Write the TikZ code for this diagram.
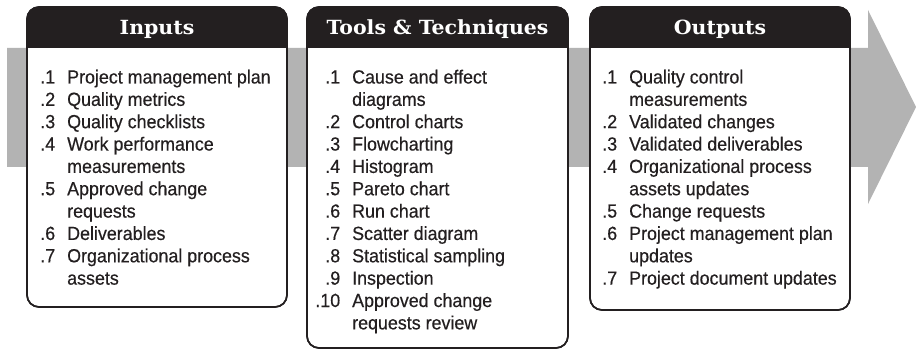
\documentclass[tikz,border=0pt]{standalone}
\usepackage{fontspec}
\setmainfont{Liberation Sans}[FakeStretch=0.94, FakeBold=0.4]
\newfontfamily\headfont{DejaVu Serif}[FakeStretch=1.05]
\definecolor{ink}{HTML}{231F20}
\definecolor{band}{HTML}{B3B3B3}
\tikzset{
  boxline/.style={draw=ink, line width=1.6pt, rounded corners=12pt, fill=white},
  hdrfill/.style={fill=ink, rounded corners=12pt},
  hdrtext/.style={text=white, font=\headfont\bfseries\fontsize{19.5}{22}\selectfont, inner sep=0pt, anchor=base},
  item/.style={text=ink, font=\fontsize{19}{22}\selectfont, inner sep=0pt, anchor=base west},
}
\newcommand{\numitem}[2]{\llap{#1\hspace{12pt}}#2}
\begin{document}
\begin{tikzpicture}[x=1pt, y=-1pt]
\useasboundingbox (0,0) rectangle (916,350);
% grey process arrow
\fill[band] (7,48) -- (868,48) -- (868,10) -- (916,107) -- (868,204) -- (868,167) -- (7,167) -- cycle;
% boxes: name/left/right/bottom
\foreach \nm/\l/\r/\b in {inbox/27/287/307, ttbox/307/568/348, outbox/590/850/310}{
  \path[boxline] (\l,7) rectangle (\r,\b);
  \begin{scope}
    \clip (\l-2,5) rectangle (\r+2,48);
    \path[hdrfill] (\l,7) rectangle (\r,80);
  \end{scope}
  \draw[ink, line width=1.6pt, rounded corners=12pt] (\l,7) rectangle (\r,\b);
  \coordinate (\nm) at ({(\l+\r)/2},35);
}
\node[hdrtext] (inhead) at (inbox) {Inputs};
\node[hdrtext] (tthead) at (ttbox) {Tools \& Techniques};
\node[hdrtext] (outhead) at (outbox) {Outputs};
% Inputs list
\foreach \n/\t [count=\i] in {
  .1/Project management plan, .2/Quality metrics, .3/Quality checklists,
  .4/Work performance, /measurements, .5/Approved change, /requests,
  .6/Deliverables, .7/Organizational process, /assets}{
  \node[item] (in\i) at (67, {83.5+(\i-1)*22.35}) {\numitem{\n}{\t}};
}
% Tools list
\foreach \n/\t [count=\i] in {
  .1/Cause and effect, /diagrams, .2/Control charts, .3/Flowcharting,
  .4/Histogram, .5/Pareto chart, .6/Run chart, .7/Scatter diagram,
  .8/Statistical sampling, .9/Inspection, .10/Approved change, /requests review}{
  \node[item] (tt\i) at (352, {83.5+(\i-1)*22.35}) {\numitem{\n}{\t}};
}
% Outputs list
\foreach \n/\t [count=\i] in {
  .1/Quality control, /measurements, .2/Validated changes, .3/Validated deliverables,
  .4/Organizational process, /assets updates, .5/Change requests,
  .6/Project management plan, /updates, .7/Project document updates}{
  \node[item] (out\i) at (629, {83.5+(\i-1)*22.35}) {\numitem{\n}{\t}};
}
\end{tikzpicture}
\end{document}
